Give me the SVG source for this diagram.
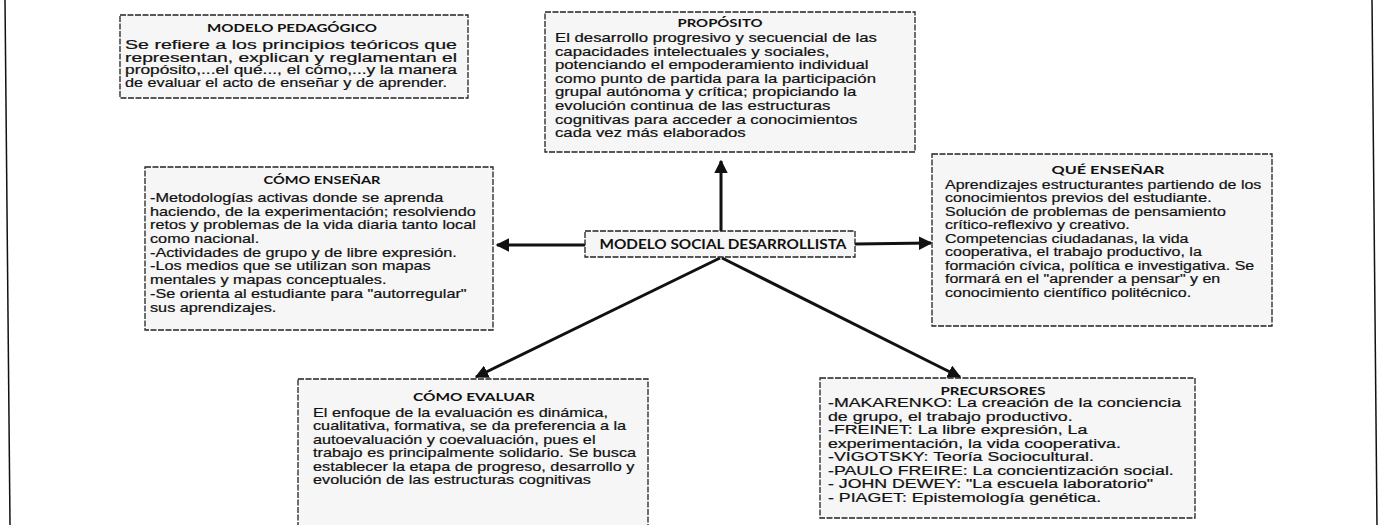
<svg xmlns="http://www.w3.org/2000/svg" width="1381" height="525" viewBox="0 0 1381 525">
<style>
.box{fill:#f6f6f6;stroke:#222;stroke-width:1.3;stroke-dasharray:6 1.5}
.hd{font-family:Lato,"Liberation Sans",sans-serif;font-weight:bold;font-size:12px;fill:#111;text-anchor:middle}
.tx{font-family:"Liberation Sans",Arial,sans-serif;font-size:12.5px;fill:#111;stroke:#111;stroke-width:0.2}
.cn{stroke:#111;stroke-width:3;fill:none}
.pg{stroke:#111;stroke-width:1.5}
</style>
<defs>
<marker id="ah" viewBox="0 0 10 10" refX="9" refY="5" markerWidth="4.5" markerHeight="4.5" orient="auto" markerUnits="strokeWidth">
<path d="M0,0 L10,5 L0,10 Z" fill="#111"/>
</marker>
</defs>
<g id="page">
<line class="pg" x1="5" y1="0" x2="10" y2="525"/>
<line class="pg" x1="1372" y1="0" x2="1377" y2="525"/>
</g>
<g id="connectors">
<line class="cn" x1="721" y1="231" x2="721" y2="161" marker-end="url(#ah)"/>
<line class="cn" x1="585" y1="245" x2="497" y2="245" marker-end="url(#ah)"/>
<line class="cn" x1="855" y1="244" x2="931" y2="243" marker-end="url(#ah)"/>
<line class="cn" x1="720" y1="258" x2="476" y2="377" marker-end="url(#ah)"/>
<line class="cn" x1="722" y1="258" x2="960" y2="377" marker-end="url(#ah)"/>
</g>
<g id="modelo-pedagogico">
<rect class="box" x="120" y="15" width="348" height="83"/>
<text class="hd" x="292" y="32" textLength="170" lengthAdjust="spacingAndGlyphs">MODELO PEDAGÓGICO</text>
<text class="tx" x="125" y="49" textLength="332" lengthAdjust="spacingAndGlyphs">Se refiere a los principios teóricos que</text>
<text class="tx" x="125" y="61.5" textLength="332" lengthAdjust="spacingAndGlyphs">representan, explican y reglamentan el</text>
<text class="tx" x="125" y="74" textLength="332" lengthAdjust="spacingAndGlyphs">propósito,...el qué..., el cómo,...y la manera</text>
<text class="tx" x="125" y="86.5" textLength="322" lengthAdjust="spacingAndGlyphs">de evaluar el acto de enseñar y de aprender.</text>
</g>
<g id="proposito">
<rect class="box" x="545" y="12" width="370" height="140"/>
<text class="hd" x="720" y="27" textLength="85" lengthAdjust="spacingAndGlyphs">PROPÓSITO</text>
<g transform="matrix(1.34 0 0 1 -188.7 0)">
<text class="tx" x="555" y="42">El desarrollo progresivo y secuencial de las</text>
<text class="tx" x="555" y="55.6">capacidades intelectuales y sociales,</text>
<text class="tx" x="555" y="69.2">potenciando el empoderamiento individual</text>
<text class="tx" x="555" y="82.8">como punto de partida para la participación</text>
<text class="tx" x="555" y="96.4">grupal autónoma y crítica; propiciando la</text>
<text class="tx" x="555" y="110">evolución continua de las estructuras</text>
<text class="tx" x="555" y="123.6">cognitivas para acceder a conocimientos</text>
<text class="tx" x="555" y="137.2">cada vez más elaborados</text>
</g>
</g>
<g id="como-ensenar">
<rect class="box" x="145" y="167" width="348" height="163"/>
<text class="hd" x="322" y="184" textLength="117" lengthAdjust="spacingAndGlyphs">CÓMO ENSEÑAR</text>
<g transform="matrix(1.3 0 0 1 -45 0)">
<text class="tx" x="150" y="202">-Metodologías activas donde se aprenda</text>
<text class="tx" x="150" y="215.7">haciendo, de la experimentación; resolviendo</text>
<text class="tx" x="150" y="229.4">retos y problemas de la vida diaria tanto local</text>
<text class="tx" x="150" y="243.1">como nacional.</text>
<text class="tx" x="150" y="256.8">-Actividades de grupo y de libre expresión.</text>
<text class="tx" x="150" y="270.5">-Los medios que se utilizan son mapas</text>
<text class="tx" x="150" y="284.2">mentales y mapas conceptuales.</text>
<text class="tx" x="150" y="297.9">-Se orienta al estudiante para "autorregular"</text>
<text class="tx" x="150" y="311.6">sus aprendizajes.</text>
</g>
</g>
<g id="modelo-social">
<rect class="box" x="585" y="231" width="270" height="26"/>
<text class="hd" x="723" y="249" style="font-size:13px" textLength="247" lengthAdjust="spacingAndGlyphs">MODELO SOCIAL DESARROLLISTA</text>
</g>
<g id="que-ensenar">
<rect class="box" x="932" y="154" width="340" height="172"/>
<text class="hd" x="1108" y="174" textLength="113" lengthAdjust="spacingAndGlyphs">QUÉ ENSEÑAR</text>
<g transform="matrix(1.28 0 0 1 -264.6 0)">
<text class="tx" x="945" y="189">Aprendizajes estructurantes partiendo de los</text>
<text class="tx" x="945" y="202.5">conocimientos previos del estudiante.</text>
<text class="tx" x="945" y="216">Solución de problemas de pensamiento</text>
<text class="tx" x="945" y="229.5">crítico-reflexivo y creativo.</text>
<text class="tx" x="945" y="243">Competencias ciudadanas, la vida</text>
<text class="tx" x="945" y="256.5">cooperativa, el trabajo productivo, la</text>
<text class="tx" x="945" y="270">formación cívica, política e investigativa. Se</text>
<text class="tx" x="945" y="283.5">formará en el "aprender a pensar" y en</text>
<text class="tx" x="945" y="297">conocimiento científico politécnico.</text>
</g>
</g>
<g id="como-evaluar">
<rect class="box" x="298" y="379" width="350" height="152"/>
<text class="hd" x="474" y="401" textLength="122" lengthAdjust="spacingAndGlyphs">CÓMO EVALUAR</text>
<g transform="matrix(1.3 0 0 1 -93.9 0)">
<text class="tx" x="313" y="417">El enfoque de la evaluación es dinámica,</text>
<text class="tx" x="313" y="430.5">cualitativa, formativa, se da preferencia a la</text>
<text class="tx" x="313" y="444">autoevaluación y coevaluación, pues el</text>
<text class="tx" x="313" y="457.5">trabajo es principalmente solidario.  Se busca</text>
<text class="tx" x="313" y="471">establecer  la etapa de progreso, desarrollo y</text>
<text class="tx" x="313" y="484.5">evolución de las estructuras cognitivas</text>
</g>
</g>
<g id="precursores">
<rect class="box" x="820" y="378" width="375" height="140"/>
<text class="hd" x="993" y="395" textLength="105" lengthAdjust="spacingAndGlyphs">PRECURSORES</text>
<g transform="matrix(1.42 0 0 1 -347.76 0)">
<text class="tx" x="828" y="407.5">-MAKARENKO: La creación de la conciencia</text>
<text class="tx" x="828" y="421">de grupo, el trabajo productivo.</text>
<text class="tx" x="828" y="434.5">-FREINET: La libre expresión, La</text>
<text class="tx" x="828" y="448">experimentación, la vida cooperativa.</text>
<text class="tx" x="828" y="461.5">-VIGOTSKY: Teoría Sociocultural.</text>
<text class="tx" x="828" y="475">-PAULO FREIRE: La concientización social.</text>
<text class="tx" x="828" y="488.5">- JOHN DEWEY: "La escuela laboratorio"</text>
<text class="tx" x="828" y="502">- PIAGET: Epistemología genética.</text>
</g>
</g>
</svg>
